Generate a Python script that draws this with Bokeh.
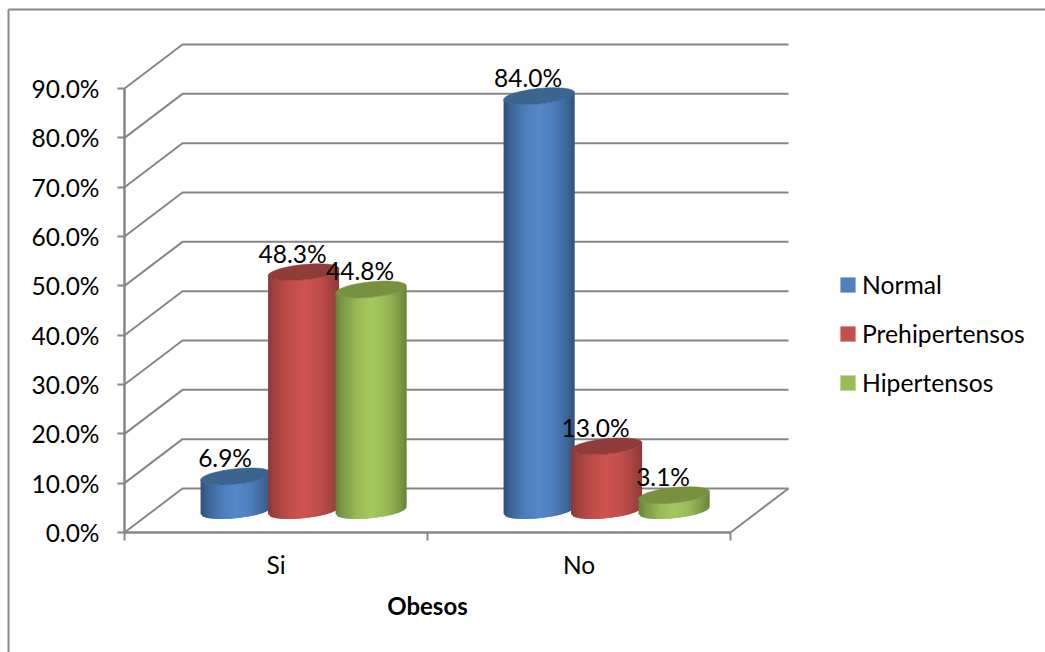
from bokeh.embed import file_html
from bokeh.resources import INLINE
from bokeh.plotting import figure
from bokeh.models import (FixedTicker, Legend, LegendItem, LinearAxis,
                          PrintfTickFormatter, Range1d)
from bokeh.core.properties import value
import numpy as np

categories = ["Si", "No"]
series_names = ["Normal", "Prehipertensos", "Hipertensos"]
normal = [6.9, 84.0]
prehipertensos = [48.3, 13.0]
hipertensos = [44.8, 3.1]
y_ticks = [0, 10, 20, 30, 40, 50, 60, 70, 80, 90]

base_colors = ["#4F81BD", "#C0504D", "#9BBB59"]
center_colors = ["#5488CC", "#CE5350", "#A5C85E"]
edge_colors = ["#2F5078", "#8A3836", "#67803A"]
cap_colors = ["#3B648F", "#903C3A", "#78913F"]

FONT = "Lato"
GREY = "#868686"
WIDTH, HEIGHT = 1045, 652

# Scale of the front plane: screen pixels per category and per percentage point.
PX_X = 303.0
PX_Y = 4.933
ORIGIN_X, ORIGIN_Y = 124.0, 532.0

# Oblique depth of the box, and where the cylinders stand inside it.
DEPTH_X = 58 / PX_X
DEPTH_Y = 44 / PX_Y
FLOOR_Y = 22 / PX_Y
BAR_STEP = 67.5 / PX_X
BAR_HALF = 35.5 / PX_X
GROUP_CENTER = 0.591
TILT = 3.5 / PX_Y
CAP_MINOR = 7.7 / PX_Y

p = figure(width=WIDTH, height=HEIGHT, output_backend="svg", toolbar_location=None,
           x_axis_type=None, y_axis_type=None, min_border=0,
           x_range=Range1d(-ORIGIN_X / PX_X, (WIDTH - ORIGIN_X) / PX_X),
           y_range=Range1d(-(HEIGHT - ORIGIN_Y) / PX_Y, ORIGIN_Y / PX_Y))
p.outline_line_color = None
p.background_fill_color = "white"
p.border_fill_color = "white"
p.grid.visible = False

# Chart area frame: only the top and left edges fall inside the page.
frame_left = -116 / PX_X
frame_top = 523 / PX_Y
p.line([frame_left, frame_left], [p.y_range.start - 5, frame_top], line_color=GREY, line_width=2)
p.line([frame_left, p.x_range.end + 0.1], [frame_top, frame_top], line_color=GREY, line_width=2)

# Back wall grid lines and the diagonals that join them to the front axis.
xs, ys = [], []
for t in y_ticks:
    xs.append([0, DEPTH_X, 2 + DEPTH_X])
    ys.append([t, t + DEPTH_Y, t + DEPTH_Y])
xs.append([2, 2 + DEPTH_X])
ys.append([0, DEPTH_Y])
p.multi_line(xs, ys, line_color=GREY, line_width=2)

xaxis = LinearAxis(ticker=FixedTicker(ticks=[0.5, 1.5], minor_ticks=[0, 1, 2]),
                   major_label_overrides={0.5: categories[0], 1.5: categories[1]},
                   axis_label="Obesos", fixed_location=0, bounds=(0, 2))
xaxis.axis_line_color = GREY
xaxis.axis_line_width = 2.5
xaxis.major_tick_line_color = None
xaxis.minor_tick_line_color = GREY
xaxis.minor_tick_line_width = 2
xaxis.minor_tick_out = 8
xaxis.minor_tick_in = 0
xaxis.major_label_standoff = 9
xaxis.major_label_text_font = FONT
xaxis.major_label_text_font_size = "24.5px"
xaxis.major_label_text_color = "black"
xaxis.axis_label_text_font = FONT
xaxis.axis_label_text_font_size = "24px"
xaxis.axis_label_text_font_style = "bold"
xaxis.axis_label_text_color = "black"
xaxis.axis_label_standoff = 9
p.add_layout(xaxis, "below")

yaxis = LinearAxis(ticker=FixedTicker(ticks=y_ticks), formatter=PrintfTickFormatter(format="%.1f%%"),
                   fixed_location=0, bounds=(0, 90))
yaxis.axis_line_color = GREY
yaxis.axis_line_width = 2.5
yaxis.major_tick_line_color = GREY
yaxis.major_tick_line_width = 2
yaxis.major_tick_out = 7
yaxis.major_tick_in = 0
yaxis.minor_tick_line_color = None
yaxis.major_label_standoff = 18
yaxis.major_label_text_font = FONT
yaxis.major_label_text_font_size = "24.5px"
yaxis.major_label_text_color = "black"
p.add_layout(yaxis, "left")


def shade(pos, edge, center):
    """Horizontal cylinder shading; pos runs from 0 at the left side to 1 at the right."""
    e = np.array([int(edge[i:i + 2], 16) for i in (1, 3, 5)], dtype=float)
    c = np.array([int(center[i:i + 2], 16) for i in (1, 3, 5)], dtype=float)
    mix = np.interp(pos, [0, 0.08, 0.3, 0.5, 0.72, 0.92, 1], [0, 0.3, 0.8, 1, 0.8, 0.3, 0.05])
    r, g, b = (e + (c - e) * mix).round().astype(int)
    return f"#{r:02x}{g:02x}{b:02x}"


def cylinder(cx, val, color_index, strips=40):
    top = FLOOR_Y + val
    edges = np.linspace(-BAR_HALF, BAR_HALF, strips + 1)
    lower = lambda u: np.sqrt(np.clip(1 - (u / BAR_HALF) ** 2, 0, 1))
    overlap = 1.5 / PX_X
    # Drawn left to right, each strip running slightly under the next one to hide seams.
    strip_x, strip_y, fills = [], [], []
    for a, b0 in zip(edges[:-1], edges[1:]):
        b = min(b0 + overlap, BAR_HALF)
        tilt_a = TILT * a / BAR_HALF
        tilt_b = TILT * b / BAR_HALF
        strip_x.append([cx + a, cx + b, cx + b, cx + a])
        strip_y.append([top + tilt_a - CAP_MINOR * lower(a), top + tilt_b - CAP_MINOR * lower(b),
                        FLOOR_Y + tilt_b - CAP_MINOR * lower(b), FLOOR_Y + tilt_a - CAP_MINOR * lower(a)])
        fills.append(shade(((a + b0) / 2 + BAR_HALF) / (2 * BAR_HALF),
                           edge_colors[color_index], center_colors[color_index]))
    p.patches(strip_x, strip_y, fill_color=fills, line_color=None)
    t = np.linspace(0, 2 * np.pi, 90)
    p.patch(cx + BAR_HALF * np.cos(t), top + TILT * np.cos(t) + CAP_MINOR * np.sin(t),
            fill_color=cap_colors[color_index], line_color=cap_colors[color_index], line_width=0.5)


all_series = [normal, prehipertensos, hipertensos]
for g in range(len(categories)):
    for s, values in enumerate(all_series):
        cylinder(g + GROUP_CENTER + (s - 1) * BAR_STEP, values[g], s)

# Value labels sit up and to the left of each cylinder's cap.
lx, ly, lt = [], [], []
for g in range(len(categories)):
    for s, values in enumerate(all_series):
        lx.append(g + GROUP_CENTER + (s - 1) * BAR_STEP)
        ly.append(FLOOR_Y + values[g])
        lt.append(f"{values[g]:.1f}%")
p.text(lx, ly, text=lt, x_offset=-11, y_offset=-19, text_align="center", text_baseline="middle",
       text_font=value(FONT), text_font_size="24.5px", text_color="black")

# Legend swatches come from quads whose coordinates are undefined, so only their colours show.
items = []
nan = float("nan")
for name, col in zip(series_names, base_colors):
    r = p.quad(left=[nan], right=[nan], top=[nan], bottom=[nan], fill_color=col, line_color=None)
    items.append(LegendItem(label=name, renderers=[r]))
legend = Legend(items=items, location=(838, 652 - 397), orientation="vertical", padding=0, margin=0,
                spacing=20, glyph_width=19, glyph_height=19, label_standoff=5,
                border_line_color=None, background_fill_alpha=0,
                label_text_font=FONT, label_text_font_size="24.7px", label_text_color="black")
p.add_layout(legend)

open("out.html", "w").write(file_html(p, INLINE))
